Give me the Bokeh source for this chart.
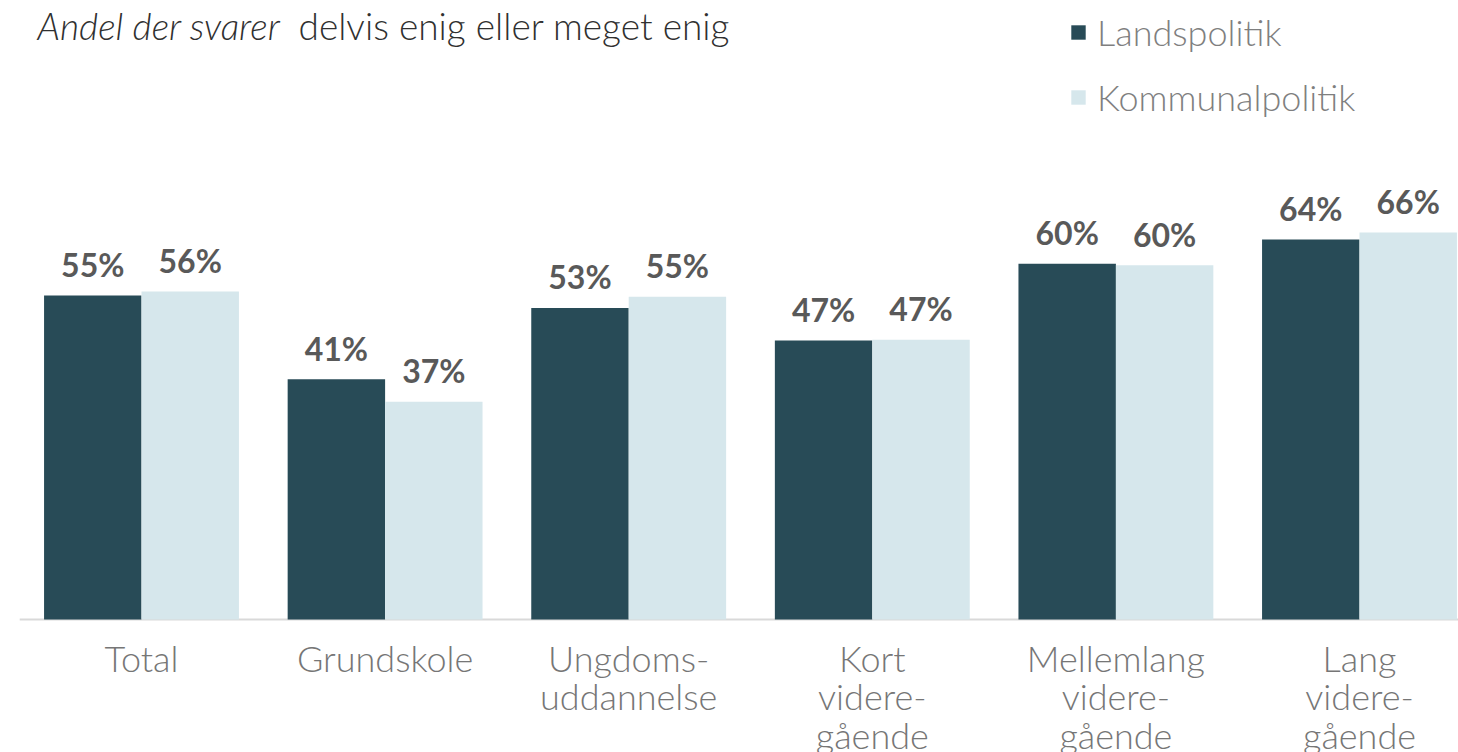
from bokeh.plotting import figure
from bokeh.models import Range1d, ColumnDataSource, Label, Legend, LegendItem
from bokeh.transform import dodge
from bokeh.core.properties import value
from bokeh.embed import file_html
from bokeh.resources import INLINE

categories = ["Total", "Grundskole", "Ungdoms-\nuddannelse", "Kort\nvidere-\ngående",
              "Mellemlang\nvidere-\ngående", "Lang\nvidere-\ngående"]
series_names = ["Landspolitik", "Kommunalpolitik"]
landspolitik = [54.9, 40.7, 52.8, 47.3, 60.3, 64.4]
kommunalpolitik = [55.6, 36.9, 54.7, 47.4, 60.05, 65.6]
title_italic = "Andel der svarer"
title_rest = "delvis enig eller meget enig"

DARK = "#284b57"
LIGHT = "#d6e7ec"
LIGHT_FONT = "Lato Light"
BOLD_FONT = "Lato"

W, H = 1458, 752
PX_PER_CAT = 243.6
PX_PER_UNIT = 5.90
ZERO_FROM_TOP = 619
CAT0_PX = 141

xs = list(range(len(categories)))
x_start = -CAT0_PX / PX_PER_CAT
x_end = x_start + W / PX_PER_CAT
y_end = ZERO_FROM_TOP / PX_PER_UNIT
y_start = -(H - ZERO_FROM_TOP) / PX_PER_UNIT

p = figure(width=W, height=H, output_backend="svg", toolbar_location=None,
           x_range=Range1d(x_start, x_end), y_range=Range1d(y_start, y_end),
           min_border=0, min_border_left=0, min_border_right=0,
           min_border_top=0, min_border_bottom=0)
p.axis.visible = False
p.grid.visible = False
p.outline_line_color = None
p.background_fill_color = "white"

# axis line
p.segment(x0=[xs[0] - 0.5], x1=[xs[-1] + 0.5], y0=[0], y1=[0],
          line_color="#d9d9d9", line_width=2)

src = ColumnDataSource(dict(
    x=xs, lp=landspolitik, kp=kommunalpolitik,
    lp_lab=[f"{round(v)}%" for v in landspolitik],
    kp_lab=[f"{round(v)}%" for v in kommunalpolitik],
))

r1 = p.vbar(x=dodge("x", -0.2), top="lp", bottom=0, width=0.4, source=src,
            fill_color=DARK, line_color=None)
r2 = p.vbar(x=dodge("x", 0.2), top="kp", bottom=0, width=0.4, source=src,
            fill_color=LIGHT, line_color=None)

for col, lab, off in (("lp", "lp_lab", -0.2), ("kp", "kp_lab", 0.2)):
    p.text(x=dodge("x", off), y=col, text=lab, source=src,
           text_font=value(BOLD_FONT), text_font_style="bold",
           text_font_size="32px", text_color="#595959",
           text_align="center", text_baseline="alphabetic", y_offset=-31)

# category labels (multi-line, one row per line)
lx, ly, ltxt, loff = [], [], [], []
for i, c in zip(xs, categories):
    for j, line in enumerate(c.split("\n")):
        lx.append(i)
        ly.append(0)
        ltxt.append(line)
        loff.append(38 + j * 38.5)
p.text(x="x", y="y", text="t", y_offset="o",
       source=ColumnDataSource(dict(x=lx, y=ly, t=ltxt, o=loff)),
       text_font=value(LIGHT_FONT), text_font_size="36px", text_color="#767676",
       text_align="center", text_baseline="alphabetic")

# title
t1 = Label(x=37, y=H - 25, x_units="screen", y_units="screen", text=title_italic,
           text_font=LIGHT_FONT, text_font_style="italic", text_font_size="37px",
           text_color="#303030", text_baseline="alphabetic")
t2 = Label(x=298, y=H - 25, x_units="screen", y_units="screen", text=title_rest,
           text_font=LIGHT_FONT, text_font_size="37px",
           text_color="#303030", text_baseline="alphabetic")
p.add_layout(t1)
p.add_layout(t2)

legend = Legend(items=[LegendItem(label=series_names[0], renderers=[r1]),
                       LegendItem(label=series_names[1], renderers=[r2])],
                location=(1069, H - 119), orientation="vertical",
                glyph_width=18, glyph_height=18, label_standoff=10,
                label_text_font=LIGHT_FONT, label_text_font_size="36px",
                label_text_color="#7f7f7f", label_height=45, spacing=20,
                padding=0, margin=0, border_line_color=None,
                background_fill_alpha=0)
p.add_layout(legend)

open("out.html", "w").write(file_html(p, INLINE))
